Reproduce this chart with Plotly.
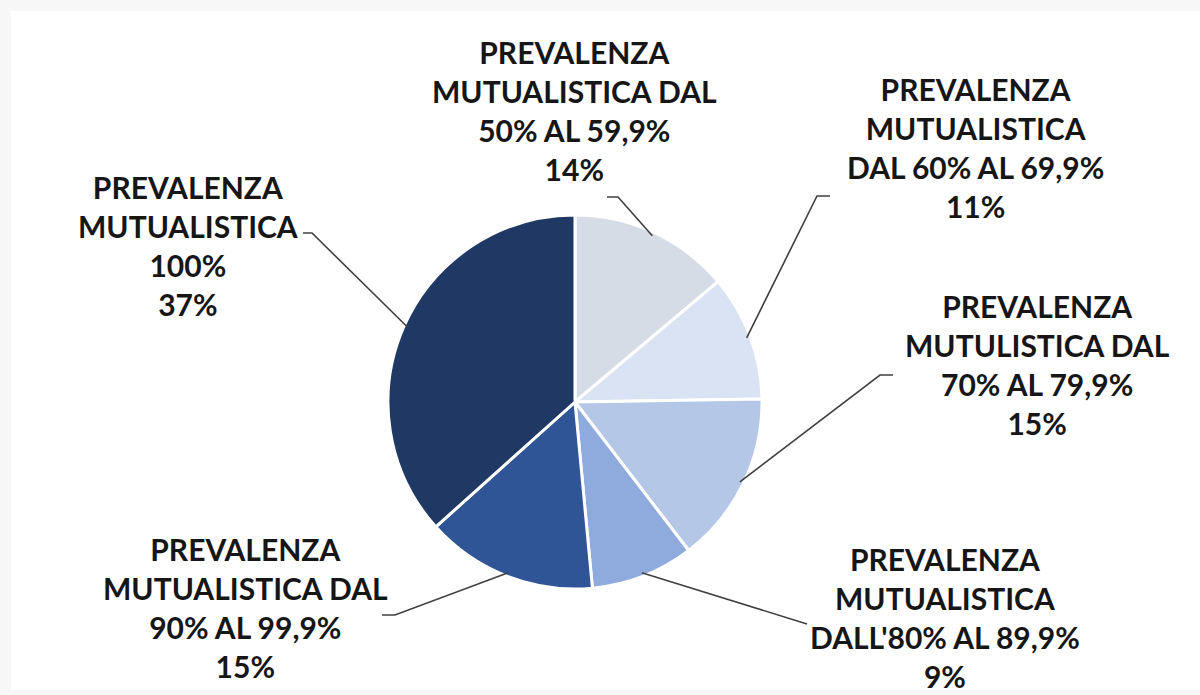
import math
import plotly.graph_objects as go

# ---- data ----
categories = [
    "PREVALENZA<br>MUTUALISTICA DAL<br>50% AL 59,9%",
    "PREVALENZA<br>MUTUALISTICA<br>DAL 60% AL 69,9%",
    "PREVALENZA<br>MUTULISTICA DAL<br>70% AL 79,9%",
    "PREVALENZA<br>MUTUALISTICA<br>DALL'80% AL 89,9%",
    "PREVALENZA<br>MUTUALISTICA DAL<br>90% AL 99,9%",
    "PREVALENZA<br>MUTUALISTICA<br>100%",
]
values = [14, 11, 15, 9, 15, 37]
pct_labels = ["14%", "11%", "15%", "9%", "15%", "37%"]
colors = ["#D6DCE5", "#DAE3F3", "#B4C7E7", "#8FAADC", "#2F5597", "#1F3864"]

# ---- layout constants (pixels) ----
W, H = 1200, 695
CX, CY, R = 575, 402, 187

# label centre positions (px) and leader elbow / end points (px)
label_pos = [(574, 110), (975, 147), (1037, 364), (945, 617), (245, 607), (188, 246)]
elbows = [(618, 197), (817, 196), (880, 375), (807, 624), (395, 615), (312, 233)]
ends = [(607, 197), (830, 196), (893, 375), (807, 624), (382, 615), (303, 233)]

def px(x, y):
    return x / W, 1 - y / H

fig = go.Figure()
fig.add_trace(go.Pie(
    labels=[c.replace("<br>", " ") for c in categories],
    values=values,
    sort=False,
    direction="clockwise",
    rotation=0,
    marker=dict(colors=colors, line=dict(color="white", width=3)),
    textinfo="none",
    hoverinfo="label+percent",
    showlegend=False,
    domain=dict(x=[(CX - R) / W, (CX + R) / W], y=[1 - (CY + R) / H, 1 - (CY - R) / H]),
))

shapes = [dict(type="rect", xref="paper", yref="paper", x0=11 / W, x1=1.0, y0=1 - 690 / H, y1=1 - 11 / H,
               fillcolor="white", line=dict(width=0), layer="below")]

total = sum(values)
cum = 0
annotations = []
for i, v in enumerate(values):
    mid = (cum + v / 2) / total * 2 * math.pi
    cum += v
    sx = CX + R * 0.98 * math.sin(mid)
    sy = CY - R * 0.98 * math.cos(mid)
    ex, ey = elbows[i]
    tx, ty = ends[i]
    p0 = px(sx, sy); p1 = px(ex, ey); p2 = px(tx, ty)
    shapes.append(dict(type="path", xref="paper", yref="paper",
                       path=f"M {p0[0]} {p0[1]} L {p1[0]} {p1[1]} L {p2[0]} {p2[1]}",
                       line=dict(color="#404040", width=1.6)))
    lx, ly = px(*label_pos[i])
    annotations.append(dict(
        x=lx, y=ly, xref="paper", yref="paper", xanchor="center", yanchor="middle",
        text=f"<b>{categories[i]}<br>{pct_labels[i]}</b>", showarrow=False, align="center",
        font=dict(family="Lato", size=30, color="#161616"),
    ))

fig.update_layout(
    width=W, height=H,
    margin=dict(l=0, r=0, t=0, b=0),
    paper_bgcolor="#F7F7F7",
    plot_bgcolor="white",
    shapes=shapes,
    annotations=annotations,
)

fig.write_html("out.html", config={"displayModeBar": False},
               post_script="document.body.style.margin='0';")
